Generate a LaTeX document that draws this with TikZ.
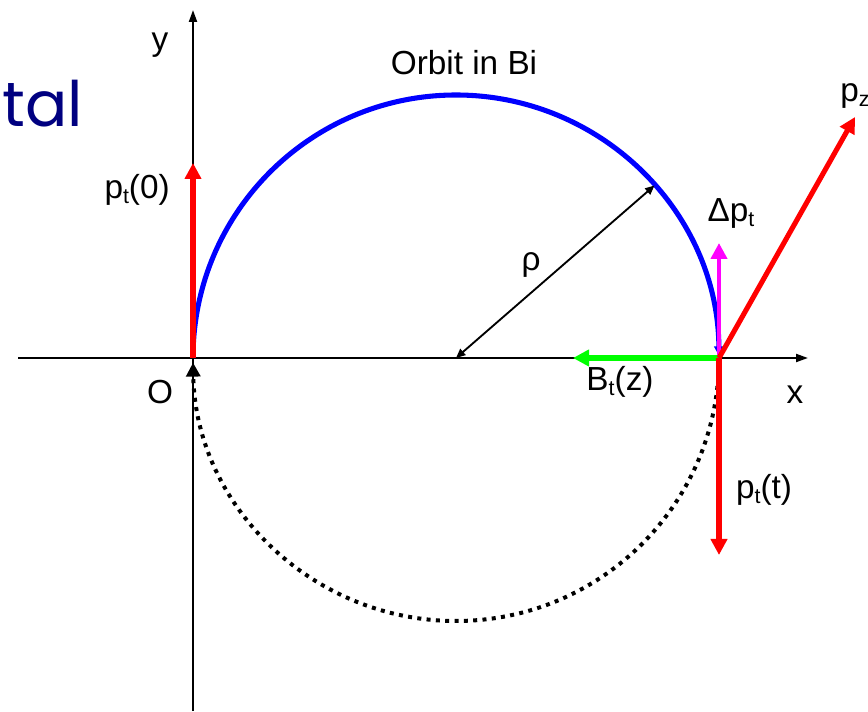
\documentclass[tikz,border=0pt]{standalone}
\usepackage{fontspec}
\setmainfont{Liberation Sans}
\newfontfamily\talfont{Poppins}
\usetikzlibrary{arrows.meta}
\definecolor{navyblue}{RGB}{0,0,128}
\definecolor{vred}{RGB}{255,0,0}
\definecolor{vblue}{RGB}{0,0,255}
\definecolor{vgreen}{RGB}{0,255,0}
\definecolor{vmag}{RGB}{255,0,255}
\newcommand\sbs[1]{\raisebox{-0.3ex}{\fontsize{16}{16}\selectfont #1}}
\begin{document}
\begin{tikzpicture}[x=0.75pt,y=0.75pt,
 lbl/.style={font=\fontsize{25}{29}\selectfont, inner sep=0pt},
 axis/.style={line width=1.5pt, -{Triangle[length=9pt,width=6pt]}},
 vec/.style={line width=3.8pt, -{Triangle[length=12pt,width=12pt]}},
]
\useasboundingbox (0,0) rectangle (868,711);
% named points
\coordinate (O) at (193,353);
\coordinate (C) at (456,353);
\coordinate (E) at (719,353);
\coordinate (xl) at (18,353);
\coordinate (xr) at (808,353);
\coordinate (yb) at (193,0);
\coordinate (yt) at (193,701);
\coordinate (p0) at (193,548);
\coordinate (rho) at (654.5,525.5);
\coordinate (dpt) at (719,468);
\coordinate (pz) at (855,594);
\coordinate (bt) at (573,353);
\coordinate (ptt) at (719,156);
% left text fragment
\node[anchor=base west, inner sep=0pt, text=navyblue, font=\talfont\fontsize{47}{50}\selectfont] (tal) at (2,584) {tal};
% dotted lower orbit
\draw[line width=3pt, dash pattern=on 3pt off 4pt, -{Triangle[length=10.5pt,width=10.5pt]}]
  (E) arc[start angle=0, end angle=-179, radius=263*0.75pt];
% axes
\draw[axis] (xl) -- (xr);
\draw[axis] (yb) -- (yt);
% blue orbit
\draw[vblue, line width=3.8pt, -{Triangle[length=7pt,width=7pt]}]
  (O) arc[start angle=180, end angle=0.5, radius=263*0.75pt];
% radius
\draw[line width=1.4pt, {Triangle[length=7pt,width=6pt]}-{Triangle[length=7pt,width=6pt]}] (C) -- (rho);
% vectors
\draw[vec, vred] (O) -- (p0);
\draw[vec, vmag, line width=3pt] (E) -- (dpt);
\draw[vec, vgreen] (E) -- (bt);
\draw[vec, vred] (E) -- (pz);
\draw[vec, vred] (E) -- (ptt);
% labels
\node[lbl] (ylab) at (160,666) {y};
\node[lbl] (xlab) at (795,316) {x};
\node[lbl] (Olab) at (160,319) {O};
\node[lbl] (orbit) at (464,648) {Orbit in Bi};
\node[lbl, anchor=east] (p0lab) at (170,521) {p\sbs{t}(0)};
\node[lbl] (rholab) at (531,446) {ρ};
\node[lbl] (dptlab) at (731,498) {Δp\sbs{t}};
\node[lbl, anchor=west] (pzlab) at (840,615) {p\sbs{z}};
\node[lbl] (btlab) at (620,329) {B\sbs{t}(z)};
\node[lbl] (pttlab) at (764,221) {p\sbs{t}(t)};
\end{tikzpicture}
\end{document}
